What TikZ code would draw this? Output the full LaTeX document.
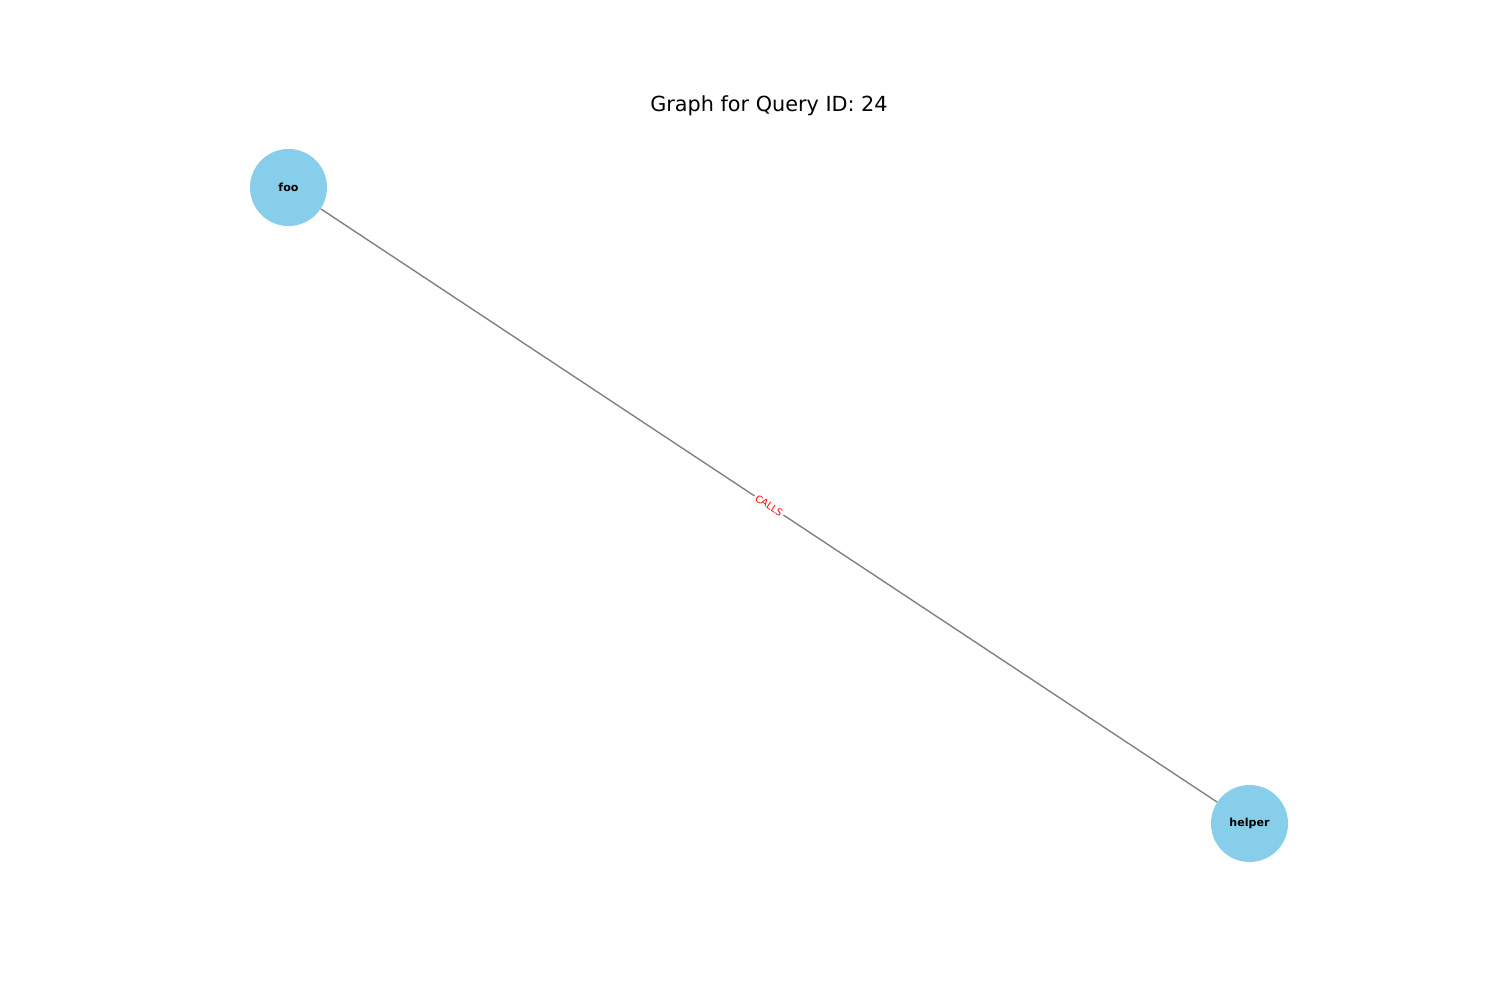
\documentclass[tikz,border=0pt]{standalone}
\usepackage{fontspec}
\setmainfont{DejaVu Sans}
\usepackage{xcolor}
\usetikzlibrary{positioning}
\definecolor{nodeblue}{RGB}{135,206,235}
\definecolor{edgegray}{RGB}{128,128,128}

\begin{document}
\begin{tikzpicture}[x=0.01in, y=-0.01in,
    fnnode/.style={circle, fill=nodeblue, minimum size=0.77in, inner sep=0pt, font=\fontsize{8}{9.6}\selectfont\bfseries},
    calllabel/.style={sloped, fill=white, text=red, inner sep=1.5pt, font=\fontsize{7}{8.4}\selectfont}]
  \useasboundingbox (0,0) rectangle (1500,1000);
  \node[anchor=base, font=\fontsize{15}{18}\selectfont] (title) at (769,112) {Graph for Query ID: 24};
  \node[fnnode] (foo) at (288.5,187.5) {foo};
  \node[fnnode] (helper) at (1249.5,823.5) {helper};

  \draw[edgegray, line width=1pt] (foo) -- node[calllabel] {CALLS} (helper);
\end{tikzpicture}
\end{document}
